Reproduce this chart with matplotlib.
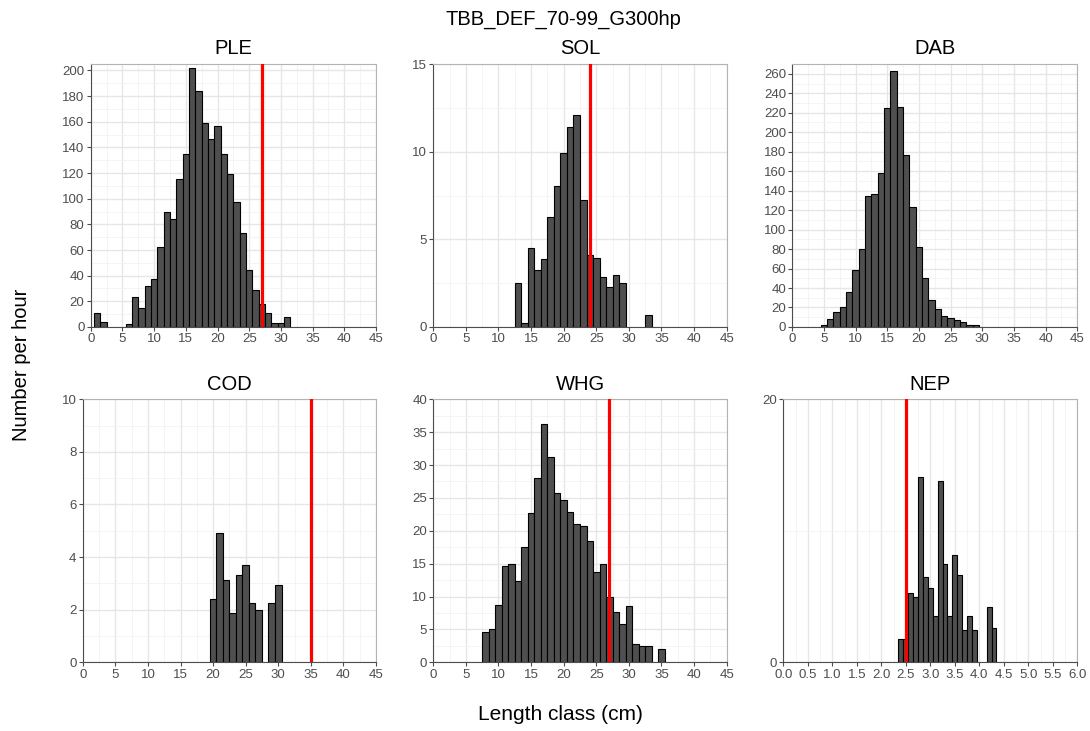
import matplotlib.pyplot as plt
import numpy as np

plt.rcParams['font.family'] = ['Liberation Sans', 'DejaVu Sans']

# length classes (cm) and number per hour
ple_len = [1, 2, 6, 7, 8, 9, 10, 11, 12, 13, 14, 15, 16, 17, 18, 19, 20, 21, 22, 23, 24, 25, 26, 27, 28, 29, 30, 31]
ple_val = [11, 4, 2.3, 23, 14.5, 31.7, 37.4, 62.3, 90, 84, 115.6, 134.5, 201.6, 183.6, 159, 146.8, 156.9, 135,
           119.5, 97.7, 73, 44.7, 29.1, 18.2, 10.9, 2.9, 2.9, 8]

sol_len = [13, 14, 15, 16, 17, 18, 19, 20, 21, 22, 23, 24, 25, 26, 27, 28, 29, 33]
sol_val = [2.53, 0.23, 4.51, 3.25, 3.86, 6.29, 8.02, 9.9, 11.43, 12.11, 7.24, 4.09, 3.95, 2.87, 2.26, 2.97, 2.49, 0.68]

dab_len = [5, 6, 7, 8, 9, 10, 11, 12, 13, 14, 15, 16, 17, 18, 19, 20, 21, 22, 23, 24, 25, 26, 27, 28, 29]
dab_val = [2, 8.2, 15.4, 20.2, 36.3, 58.6, 80.2, 134.3, 136.7, 158.6, 224.7, 263, 226, 176.4, 123.3, 81.9, 50.7,
           27.4, 18.8, 11.6, 9.6, 7.5, 5.1, 2.4, 2.4]

cod_len = [20, 21, 22, 23, 24, 25, 26, 27, 29, 30]
cod_val = [2.42, 4.93, 3.13, 1.89, 3.3, 3.69, 2.27, 1.99, 2.27, 2.92]

whg_len = [8, 9, 10, 11, 12, 13, 14, 15, 16, 17, 18, 19, 20, 21, 22, 23, 24, 25, 26, 27, 28, 29, 30, 31, 32, 33, 35]
whg_val = [4.56, 5.1, 8.77, 14.6, 14.96, 12.4, 17.5, 22.7, 28.0, 36.3, 31.2, 25.7, 24.7, 22.87, 21.0, 20.8, 18.5,
           13.8, 15.0, 9.94, 7.6, 5.83, 8.62, 2.84, 2.43, 2.5, 1.98]

nep_len = [2.4, 2.5, 2.6, 2.7, 2.8, 2.9, 3.0, 3.1, 3.2, 3.3, 3.4, 3.5, 3.6, 3.7, 3.8, 3.9, 4.2, 4.3]
nep_val = [1.75, 1.75, 5.3, 4.94, 14.07, 6.49, 5.68, 3.55, 13.76, 7.48, 3.55, 8.19, 6.64, 2.46, 3.55, 2.46, 4.18, 2.64]

species = ["PLE", "SOL", "DAB", "COD", "WHG", "NEP"]
lengths = [ple_len, sol_len, dab_len, cod_len, whg_len, nep_len]
values = [ple_val, sol_val, dab_val, cod_val, whg_val, nep_val]
mcrs = [27, 24, None, 35, 27, 2.5]
ymax = [205, 15, 270, 10, 40, 20]
ystep = [20, 5, 20, 2, 5, 20]

# panel boxes in figure fractions [left, bottom, width, height]
boxes = [[0.0832, 0.5527, 0.2618, 0.3597],
         [0.3975, 0.5527, 0.2692, 0.3597],
         [0.7269, 0.5527, 0.2614, 0.3597],
         [0.0759, 0.0940, 0.2691, 0.3598],
         [0.3975, 0.0940, 0.2692, 0.3598],
         [0.7186, 0.0940, 0.2697, 0.3598]]

fig = plt.figure(figsize=(10.9, 7.31), dpi=100)

for i in range(6):
    ax = fig.add_axes(boxes[i])
    nep = species[i] == "NEP"
    width = 0.1 if nep else 1.0
    ax.bar(lengths[i], values[i], width=width, color="#4f4f4f", edgecolor="black", linewidth=0.8, zorder=2)
    if mcrs[i] is not None:
        ax.axvline(mcrs[i], color="red", lw=2.3, zorder=3)
    if nep:
        ax.set_xlim(0, 6)
        ax.set_xticks(np.arange(0, 6.01, 0.5))
        ax.set_xticklabels(["%.1f" % v for v in np.arange(0, 6.01, 0.5)])
        ax.set_xticks(np.arange(0.25, 6, 0.5), minor=True)
    else:
        ax.set_xlim(0, 45)
        ax.set_xticks(np.arange(0, 46, 5))
        ax.set_xticks(np.arange(2.5, 45, 5), minor=True)
    ax.set_ylim(0, ymax[i])
    ax.set_yticks(np.arange(0, ymax[i] + 0.01, ystep[i]))
    ax.set_yticks(np.arange(ystep[i] / 2, ymax[i], ystep[i]), minor=True)
    ax.grid(which="major", color="#e6e6e6", lw=1.0, zorder=0)
    ax.grid(which="minor", color="#f2f2f2", lw=0.6, zorder=0)
    ax.set_axisbelow(True)
    ax.tick_params(which="major", length=3, width=0.8, color="#4d4d4d", labelcolor="#4d4d4d",
                   labelsize=9.5, pad=1.5)
    ax.tick_params(which="minor", length=0)
    for s in ["top", "right"]:
        ax.spines[s].set_color("#b3b3b3")
        ax.spines[s].set_linewidth(0.8)
    for s in ["left", "bottom"]:
        ax.spines[s].set_color("#4d4d4d")
        ax.spines[s].set_linewidth(0.8)
    ax.set_title(species[i], fontsize=14.5, pad=7)

fig.text(0.517, 1 - 25 / 731, "TBB_DEF_70-99_G300hp", ha="center", va="baseline", fontsize=14.5)
fig.text(0.514, 1 - 720 / 731, "Length class (cm)", ha="center", va="baseline", fontsize=15)
fig.text(0.02, 0.5007, "Number per hour", ha="center", va="center", rotation="vertical", fontsize=14.5)

fig.savefig("out.png", dpi=100)
